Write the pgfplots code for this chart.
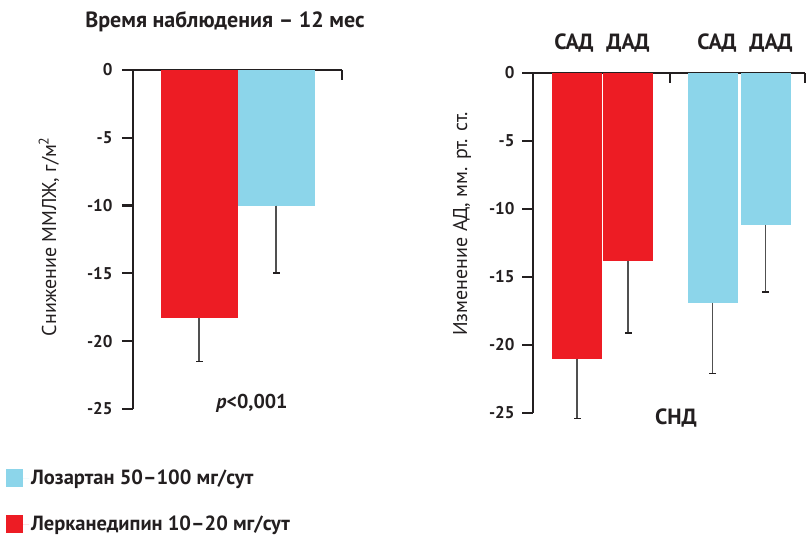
\documentclass[border=0pt]{standalone}
\usepackage{pgfplots}
\pgfplotsset{compat=1.18}
\usepackage{fontspec}
\setmainfont{PT Sans}
\definecolor{cred}{HTML}{ED1C24}
\definecolor{cblue}{HTML}{8CD5EA}
\definecolor{cax}{HTML}{231F20}
\definecolor{cerr}{HTML}{505050}
\begin{document}
\begin{tikzpicture}
\useasboundingbox (0pt,0pt) rectangle (808pt,538pt);
\pgfplotsset{
  myax/.style={
    scale only axis,
    anchor=south west,
    ymin=-25, ymax=0,
    axis x line*=top,
    axis y line*=left,
    axis line style={cax, line width=2.2pt, -},
    ytick={-25,-20,-15,-10,-5,0},
    yticklabels={-25,-20,-15,-10,-5,0},
    y tick label style={font=\fontsize{17}{19}\selectfont\bfseries, text=cax},
    ytick style={cax, line width=2.2pt},
    tick align=outside,
    major tick length=11pt,
    xtick=\empty,
    y label style={font=\fontsize{20}{24}\selectfont, text=cax, anchor=center},
    error bars/y dir=minus,
    error bars/y explicit,
    error bars/error mark=-,
    error bars/error bar style={cerr, line width=1.3pt},
    error bars/error mark options={cax, line width=1.8pt, mark size=3.5pt, rotate=90},
    clip=false,
  },
  mybar/.style={ybar, bar shift=0pt, draw=none, forget plot},
}
% ---------- left chart ----------
\begin{axis}[myax,
  at={(133pt,129pt)}, width=209pt, height=339pt,
  xmin=133, xmax=342,
  y tick label style={xshift=-6pt},
  ylabel={Снижение ММЛЖ, г/м\textsuperscript{2}},
  y label style={at={(axis description cs:-0.402,0.509)}},
  legend style={at={(axis description cs:-0.608,-0.174)}, anchor=north west,
    draw=none, fill=none, inner sep=0pt, row sep=26pt,
    font=\fontsize{20.5}{23}\selectfont\bfseries, text=cax},
  legend cell align=left,
  legend image code/.code={\fill[#1] (0pt,-9pt) rectangle (17pt,9pt); \path (0pt,0pt) -- (23pt,0pt);},
]
\addplot[mybar, bar width=77, fill=cred] coordinates {(199,-18.3) +- (0,3.2)};
\addplot[mybar, bar width=77, fill=cblue] coordinates {(276,-10.0) +- (0,5.0)};
\addlegendimage{fill=cblue, draw=none}
\addlegendentry{Лозартан 50–100 мг/сут}
\addlegendimage{fill=cred, draw=none}
\addlegendentry{Лерканедипин 10–20 мг/сут}
\draw[cax, line width=2.2pt] (axis cs:342,0) -- ++(0pt,-10pt);
\node[font=\fontsize{22}{26}\selectfont\bfseries, text=cax] at (axis cs:225,3.55) {Время наблюдения – 12 мес};
\node[font=\fontsize{20}{24}\selectfont\bfseries, text=cax] at (axis cs:252,-24.6) {\textit{p}<0,001};
\end{axis}
% ---------- right chart ----------
\begin{axis}[myax,
  at={(533pt,125pt)}, width=272pt, height=340pt,
  xmin=533, xmax=805,
  y tick label style={xshift=-4pt},
  ylabel={Изменение АД, мм. рт. ст.},
  y label style={at={(axis description cs:-0.261,0.556)}},
]
\addplot[mybar, bar width=50, fill=cred] coordinates {(577,-21.0) +- (0,4.4)};
\addplot[mybar, bar width=50, fill=cred] coordinates {(628,-13.8) +- (0,5.3)};
\addplot[mybar, bar width=50, fill=cblue] coordinates {(712.5,-16.9) +- (0,5.2)};
\addplot[mybar, bar width=50, fill=cblue] coordinates {(765.5,-11.2) +- (0,4.9)};
\draw[cax, line width=2.2pt] (axis cs:670,0) -- ++(0pt,-10pt);
\draw[cax, line width=2.2pt] (axis cs:805,0) -- ++(0pt,-10pt);
\foreach \xx/\tt in {574/САД,628/ДАД,717/САД,771/ДАД}{
  \edef\temp{\noexpand\node[font=\noexpand\fontsize{22}{26}\noexpand\selectfont\noexpand\bfseries, text=cax] at (axis cs:\xx,2.2) {\tt};}
  \temp
}
\node[font=\fontsize{22}{26}\selectfont\bfseries, text=cax] at (axis cs:676,-25.37) {СНД};
\end{axis}
\end{tikzpicture}
\end{document}
